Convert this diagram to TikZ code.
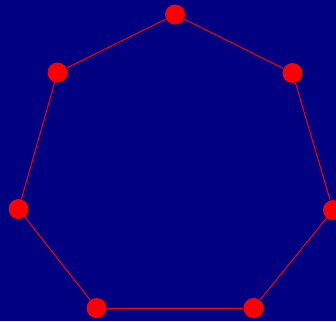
\documentclass[tikz,border=0pt]{standalone}
\usepackage{xcolor}
\usepackage{tikz}
\usetikzlibrary{positioning}
\definecolor{bgnavy}{RGB}{0,0,128}

\begin{document}
\begin{tikzpicture}[x=1pt,y=-1pt,
  vert/.style={circle,fill=red,draw=none,inner sep=0pt,minimum size=20pt},
  edge/.style={draw=red,line width=1pt}]
\fill[bgnavy] (0,0) rectangle (336,321);
\useasboundingbox (0,0) rectangle (336,321);
\node[vert] at (175,14.5) (A) {};
\node[vert] at (292.5,73) (B) {};
\node[vert] at (333,210) (C) {};
\node[vert] at (253.5,308) (D) {};
\node[vert] at (96.5,308) (E) {};
\node[vert] at (18.5,209) (F) {};
\node[vert] at (57.5,72.5) (G) {};
\draw[edge] (A) -- (B);
\draw[edge] (B) -- (C);
\draw[edge] (C) -- (D);
\draw[edge] (D) -- (E);
\draw[edge] (E) -- (F);
\draw[edge] (F) -- (G);
\draw[edge] (G) -- (A);
\end{tikzpicture}
\end{document}
